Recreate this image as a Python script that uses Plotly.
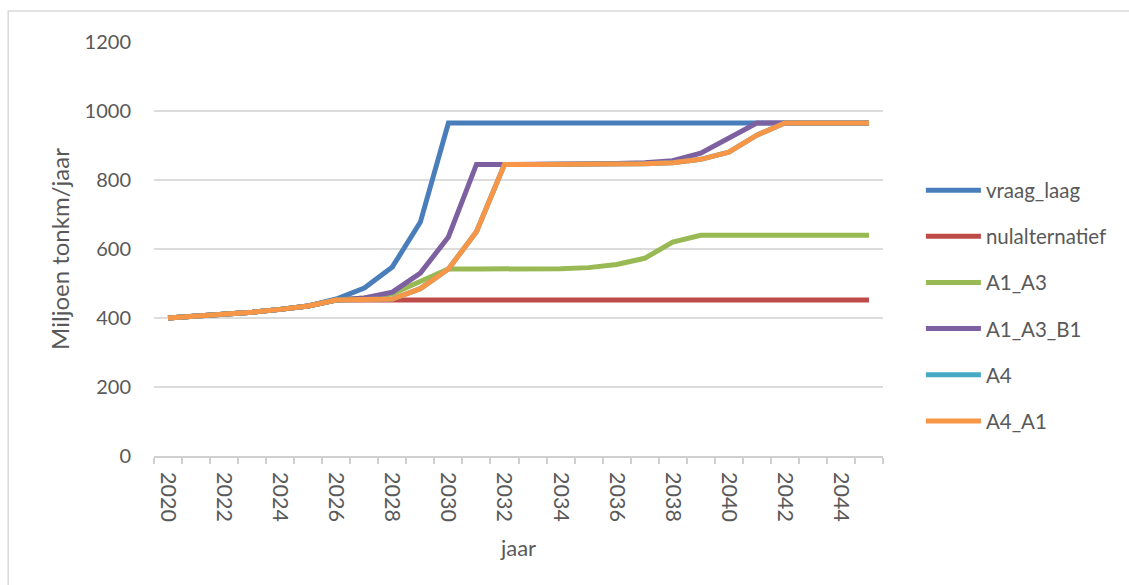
import plotly.graph_objects as go

# Years on the x axis
jaren = list(range(2020, 2046))

# Transport volume per scenario (miljoen tonkm/jaar)
vraag_laag = [400, 405, 411, 417, 425, 435, 455, 487, 548, 678, 965,
              965, 965, 965, 965, 965, 965, 965, 965, 965, 965,
              965, 965, 965, 965, 965]
nulalternatief = [400, 405, 411, 417, 425, 435, 452, 452, 452, 452, 452,
                  452, 452, 452, 452, 452, 452, 452, 452, 452, 452,
                  452, 452, 452, 452, 452]
a1_a3 = [400, 405, 411, 417, 425, 435, 452, 458, 470, 505, 542,
         542, 542, 542, 543, 546, 555, 573, 620, 640, 640,
         640, 640, 640, 640, 640]
a1_a3_b1 = [400, 405, 411, 417, 425, 435, 452, 458, 475, 530, 635,
            845, 845, 845, 845, 846, 848, 850, 856, 878, 922,
            965, 965, 965, 965, 965]
a4 = [400, 405, 411, 417, 425, 435, 452, 452, 455, 485, 542,
      650, 845, 845, 845, 845, 846, 847, 850, 860, 881,
      930, 965, 965, 965, 965]
a4_a1 = [400, 405, 411, 417, 425, 435, 452, 452, 455, 485, 542,
         650, 845, 845, 845, 845, 846, 847, 850, 860, 881,
         930, 965, 965, 965, 965]

series = [
    ("vraag_laag", vraag_laag, "#4a7ebb"),
    ("nulalternatief", nulalternatief, "#be4b48"),
    ("A1_A3", a1_a3, "#98b954"),
    ("A1_A3_B1", a1_a3_b1, "#7d60a0"),
    ("A4", a4, "#46aac5"),
    ("A4_A1", a4_a1, "#f69646"),
]

tick_jaren = list(range(2020, 2046, 2))

FONT = "Lato"
GREY = "#595959"

fig = go.Figure()
for i, (naam, waarden, kleur) in enumerate(series):
    fig.add_trace(go.Scatter(
        x=jaren, y=waarden, name=naam, mode="lines",
        line=dict(color=kleur, width=5),
        legendgroup=f"g{i}",
    ))

fig.update_layout(
    width=1129, height=585,
    margin=dict(l=154, r=246, t=42, b=129),
    paper_bgcolor="white", plot_bgcolor="white",
    font=dict(family=FONT, color=GREY),
    showlegend=True,
    legend=dict(
        x=1.052, xanchor="left", y=0.69, yanchor="top",
        font=dict(size=20.5, color=GREY, family=FONT),
        itemwidth=55, tracegroupgap=16.5,
        bgcolor="rgba(0,0,0,0)",
    ),
    xaxis=dict(
        range=[2019.5, 2045.5],
        tickmode="array", tickvals=tick_jaren,
        ticktext=[str(j) for j in tick_jaren],
        tickangle=90, ticks="",
        tickfont=dict(size=21.5, color=GREY, family=FONT),
        ticklabelstandoff=10,
        showgrid=False, zeroline=False,
        showline=True, linecolor="#d0d0d0", linewidth=1.5,
        minor=dict(tick0=2019.5, dtick=1, ticks="outside",
                   ticklen=6, tickcolor="#d0d0d0", tickwidth=1.5,
                   showgrid=False),
        title=dict(text="jaar", font=dict(size=22, color=GREY, family=FONT),
                   standoff=20),
    ),
    yaxis=dict(
        range=[0, 1200], tickmode="linear", tick0=0, dtick=200,
        tickfont=dict(size=20, color=GREY, family=FONT),
        showgrid=True, gridcolor="#dcdcdc", gridwidth=1.5,
        zeroline=False, showline=False, ticks="",
        ticklabelstandoff=22,
        title=dict(text="Miljoen tonkm/jaar",
                   font=dict(size=24, color=GREY, family=FONT),
                   standoff=8),
    ),
    shapes=[dict(
        type="rect", xref="paper", yref="paper",
        x0=-0.2, x1=1.4, y0=1.075, y1=-0.4,
        line=dict(color="#d9d9d9", width=1.5),
        fillcolor="rgba(0,0,0,0)", layer="below",
    )],
)

fig.write_html("out.html")
